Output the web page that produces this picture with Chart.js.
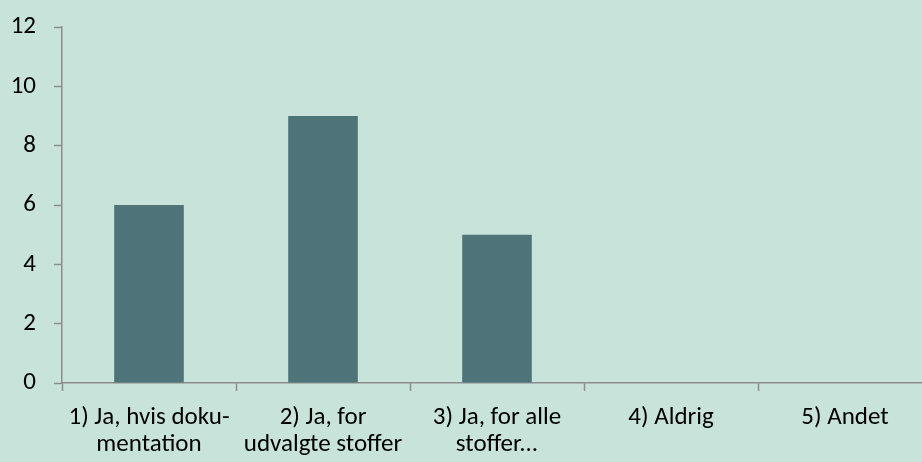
<!DOCTYPE html>
<html>
<head>
<meta charset="utf-8">
<script src="https://cdn.jsdelivr.net/npm/chart.js@4"></script>
<style>
    html, body { margin: 0; padding: 0; overflow: hidden; background: #c8e3d9; }
    #wrap { position: absolute; left: 0; top: 0; width: 940px; height: 462px; }
</style>
</head>
<body>
<div id="wrap"><canvas id="chart"></canvas></div>
<script>
    // kategorier og værdier
    const categories = [
        ['1) Ja, hvis doku-', 'mentation'],
        ['2) Ja, for', 'udvalgte stoffer'],
        ['3) Ja, for alle', 'stoffer...'],
        '4) Aldrig',
        '5) Andet'
    ];
    const counts = [6, 9, 5, 0, 0];
    const yTicks = [0, 2, 4, 6, 8, 10, 12];

    const axisGray = '#8c8c8c';
    Chart.defaults.font.family = "Carlito, 'Open Sans', 'Liberation Sans', sans-serif";
    Chart.defaults.font.size = 25;
    Chart.defaults.color = '#000';

    const ctx = document.getElementById('chart').getContext('2d');
    const myChart = new Chart(ctx, {
        type: 'bar',
        data: {
            labels: categories,
            datasets: [{
                data: counts,
                backgroundColor: '#4e7479',
                borderWidth: 0,
                barPercentage: 1,
                categoryPercentage: 0.4
            }]
        },
        options: {
            responsive: true,
            maintainAspectRatio: false,
            animation: false,
            layout: { padding: { top: 27, right: 8, bottom: 0, left: 0 } },
            plugins: { legend: { display: false }, tooltip: { enabled: false } },
            scales: {
                x: {
                    grid: { display: true, drawOnChartArea: false, offset: true, color: axisGray, tickLength: 8, tickWidth: 1.5 },
                    border: { color: axisGray, width: 1.5 },
                    ticks: { color: '#000', font: { size: 25, lineHeight: 1.05 }, padding: 14, maxRotation: 0, autoSkip: false },
                    afterFit: axis => { axis.height = 79; axis.paddingLeft = 0; axis.paddingRight = 0; }
                },
                y: {
                    min: 0,
                    max: 12,
                    afterBuildTicks: axis => { axis.ticks = yTicks.map(v => ({ value: v })); },
                    grid: { display: true, drawOnChartArea: false, color: axisGray, tickLength: 8, tickWidth: 1.5 },
                    border: { color: axisGray, width: 1.5 },
                    ticks: { color: '#000', font: { size: 25 }, padding: 18 },
                    afterFit: axis => { axis.width = 62; axis.paddingTop = 0; axis.paddingBottom = 0; }
                }
            }
        }
    });
</script>
</body>
</html>
